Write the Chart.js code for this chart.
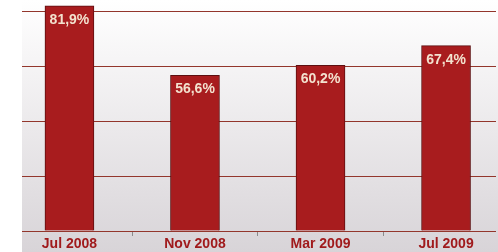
<!DOCTYPE html>
<html>
<head>
<meta charset="utf-8">
<script src="https://cdn.jsdelivr.net/npm/chart.js@4/dist/chart.umd.min.js"></script>
<style>
  html, body { margin: 0; background: #fff; }
  #wrap { width: 498px; height: 252px; }
</style>
</head>
<body>
<div id="wrap"><canvas id="chart"></canvas></div>
<script>
const categories = ['Jul 2008', 'Nov 2008', 'Mar 2009', 'Jul 2009'];
const values = [81.9, 56.6, 60.2, 67.4];
const valueLabels = ['81,9%', '56,6%', '60,2%', '67,4%'];
const gridValues = [0, 20, 40, 60, 80];

const plotBackground = {
  id: 'plotBackground',
  beforeDraw(chart) {
    const { ctx, chartArea, height } = chart;
    const grad = ctx.createLinearGradient(0, 0, 0, height);
    grad.addColorStop(0, '#ffffff');
    grad.addColorStop(1, '#d8d4d8');
    ctx.save();
    ctx.fillStyle = grad;
    ctx.fillRect(chartArea.left, 0, chartArea.right - chartArea.left + 2, height);
    ctx.restore();
  },
};

const barLabels = {
  id: 'barLabels',
  afterDatasetsDraw(chart) {
    const { ctx } = chart;
    ctx.save();
    ctx.font = 'bold 14px "Liberation Sans", Arial, sans-serif';
    ctx.fillStyle = '#f3e2cf';
    ctx.textAlign = 'center';
    ctx.textBaseline = 'middle';
    chart.getDatasetMeta(0).data.forEach((bar, i) => {
      ctx.fillText(valueLabels[i], bar.x, bar.y + 14);
    });
    ctx.restore();
  },
};

new Chart(document.querySelector('#chart'), {
  type: 'bar',
  data: {
    datasets: [{
      data: values.map((v, i) => ({ x: i, y: v })),
      backgroundColor: '#a81c1e',
      borderColor: '#5c0f10',
      borderWidth: 1,
      borderSkipped: 'bottom',
      barThickness: 49,
    }],
  },
  options: {
    responsive: true,
    maintainAspectRatio: false,
    animation: false,
    layout: { padding: { left: 22, right: 2, top: 0, bottom: 0 } },
    plugins: { legend: { display: false }, tooltip: { enabled: false } },
    scales: {
      x: {
        type: 'linear',
        offset: false,
        min: -0.378,
        max: 3.398,
        afterBuildTicks: scale => {
          scale.ticks = categories.map((c, i) => ({ value: i }));
        },
        grid: {
          offset: true,
          drawOnChartArea: false,
          tickLength: 5,
          tickColor: '#8a8a8a',
        },
        border: { display: false },
        ticks: {
          padding: 1,
          color: '#a01a1c',
          font: { family: '"Liberation Sans", Arial, sans-serif', size: 14, weight: 'bold', lineHeight: 1 },
          callback: (value, index) => categories[index],
        },
      },
      y: {
        min: 0,
        max: 84,
        afterBuildTicks: scale => {
          scale.ticks = gridValues.map(v => ({ value: v }));
        },
        grid: { color: '#93362c', drawTicks: false },
        border: { display: false },
        ticks: { display: false },
      },
    },
  },
  plugins: [plotBackground, barLabels],
});
</script>
</body>
</html>
